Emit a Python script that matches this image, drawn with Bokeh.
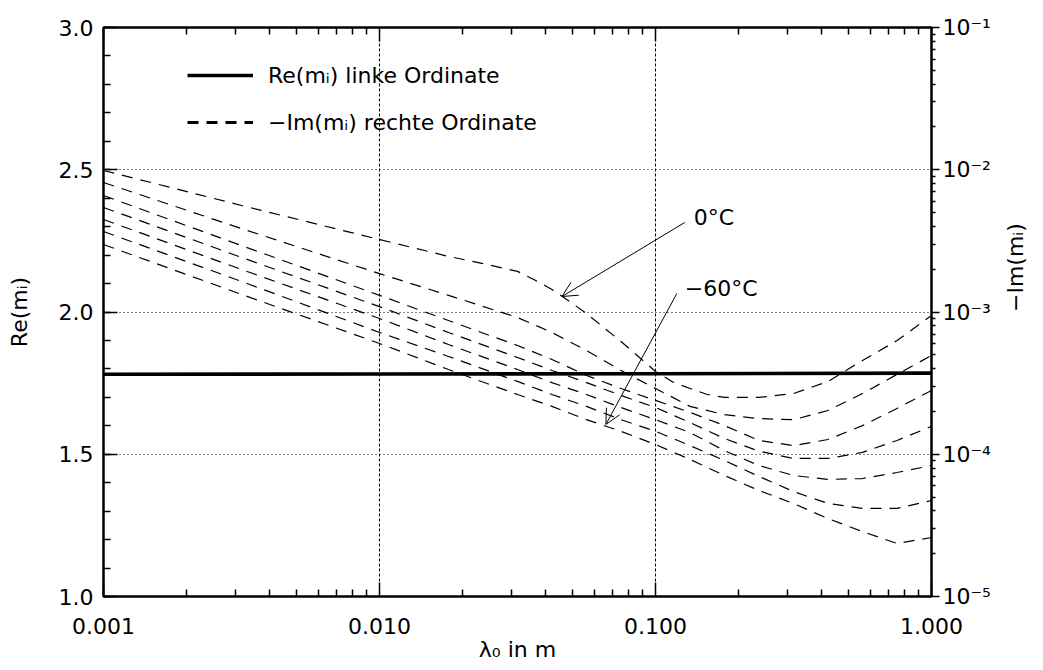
import math

from bokeh.embed import file_html
from bokeh.models import (Arrow, FixedTicker, CustomJSTickFormatter, Label, Legend,
                          LegendItem, LinearAxis, LinearScale, LogAxis, OpenHead, Range1d)
from bokeh.plotting import figure
from bokeh.resources import INLINE

# Wavelength grids (m) of the -Im(m_i) curves
wavelength_0c_m = [0.001, 0.003162, 0.01, 0.01778, 0.02371, 0.03162, 0.03652, 0.04217,
                   0.04870, 0.05623, 0.06494, 0.07499, 0.08660, 0.1, 0.1155, 0.1334,
                   0.1540, 0.1778, 0.2371, 0.3162, 0.4217, 0.5623, 0.7499, 1.0]
wavelength_m = [0.001, 0.003162, 0.01, 0.01778, 0.03162, 0.04217, 0.05623, 0.07499,
                0.1, 0.1334, 0.1778, 0.2371, 0.3162, 0.4217, 0.5623, 0.7499, 1.0]

# -Im(m_i) of ice for temperatures 0 .. -60 degC (right ordinate, log scale)
im_0c = [9.88e-3, 5.61e-3, 3.23e-3, 2.46e-3, 2.19e-3, 1.93e-3, 1.68e-3, 1.44e-3,
         1.19e-3, 9.76e-4, 7.78e-4, 6.20e-4, 4.87e-4, 3.82e-4, 3.22e-4, 2.90e-4,
         2.63e-4, 2.51e-4, 2.51e-4, 2.67e-4, 3.25e-4, 4.56e-4, 6.30e-4, 9.45e-4]
im_m10c = [8.14e-3, 3.86e-3, 1.86e-3, 1.31e-3, 9.15e-4, 7.18e-4, 5.36e-4, 3.88e-4, 2.90e-4,
           2.17e-4, 1.90e-4, 1.78e-4, 1.75e-4, 2.03e-4, 2.67e-4, 3.64e-4, 4.95e-4]
im_m20c = [6.59e-3, 2.93e-3, 1.31e-3, 8.71e-4, 5.81e-4, 4.64e-4, 3.58e-4, 2.90e-4, 2.39e-4,
           1.97e-4, 1.59e-4, 1.25e-4, 1.15e-4, 1.27e-4, 1.59e-4, 2.10e-4, 2.81e-4]
im_m30c = [5.43e-3, 2.42e-3, 1.09e-3, 7.18e-4, 4.79e-4, 3.88e-4, 3.19e-4, 2.59e-4, 2.13e-4,
           1.67e-4, 1.29e-4, 1.05e-4, 9.34e-5, 9.34e-5, 1.03e-4, 1.25e-4, 1.57e-4]
im_m40c = [4.47e-3, 1.99e-3, 9.00e-4, 5.91e-4, 3.94e-4, 3.19e-4, 2.63e-4, 2.13e-4, 1.75e-4,
           1.42e-4, 1.06e-4, 8.33e-5, 7.09e-5, 6.65e-5, 6.75e-5, 7.44e-5, 8.33e-5]
im_m50c = [3.68e-3, 1.64e-3, 7.18e-4, 4.87e-4, 3.25e-4, 2.63e-4, 2.17e-4, 1.75e-4, 1.45e-4,
           1.15e-4, 9.04e-5, 6.98e-5, 5.47e-5, 4.51e-5, 4.16e-5, 4.16e-5, 4.73e-5]
im_m60c = [2.98e-3, 1.33e-3, 6.01e-4, 3.94e-4, 2.63e-4, 2.17e-4, 1.75e-4, 1.45e-4, 1.17e-4,
           9.19e-5, 7.09e-5, 5.56e-5, 4.51e-5, 3.53e-5, 2.86e-5, 2.36e-5, 2.60e-5]

# Re(m_i) (left ordinate)
re_wavelength_m = [0.001, 0.01, 0.1, 1.0]
re_m = [1.781, 1.782, 1.783, 1.785]

# Axis ticks
x_major = [0.001, 0.01, 0.1, 1.0]
x_minor = [m * 10.0 ** e for e in range(-3, 0) for m in range(2, 10)]
re_major = [1.0, 1.5, 2.0, 2.5, 3.0]
re_minor = [round(1.0 + 0.1 * i, 1) for i in range(21)]
im_major = [1e-5, 1e-4, 1e-3, 1e-2, 1e-1]
im_minor = [m * 10.0 ** e for e in range(-5, -1) for m in range(2, 10)]

FONT = "DejaVu Sans"
FS = "22px"

p = figure(width=1043, height=670, x_axis_type="log", y_axis_type="log",
           x_range=Range1d(0.001, 1.0), y_range=Range1d(1e-5, 1e-1),
           y_axis_location="right",
           output_backend="svg", toolbar_location=None,
           min_border_left=103, min_border_right=111,
           min_border_top=27, min_border_bottom=74)
p.extra_y_ranges = {"re": Range1d(1.0, 3.0)}
p.extra_y_scales = {"re": LinearScale()}

p.background_fill_color = None
p.border_fill_color = "white"
p.outline_line_color = "black"
p.outline_line_width = 2

# dotted reference grid
p.xgrid.ticker = FixedTicker(ticks=[0.01, 0.1])
p.ygrid.ticker = FixedTicker(ticks=[1e-4, 1e-3, 1e-2])
p.xgrid.grid_line_color = "black"
p.xgrid.grid_line_dash = "3 2"
p.xgrid.grid_line_width = 1
p.ygrid.grid_line_color = "black"
p.ygrid.grid_line_dash = "1 3"
p.ygrid.grid_line_width = 1.2


def style_axis(ax):
    ax.axis_line_width = 2
    ax.axis_line_color = "black"
    ax.major_tick_in = 14
    ax.major_tick_out = 0
    ax.minor_tick_in = 7
    ax.minor_tick_out = 0
    ax.major_tick_line_width = 1.5
    ax.minor_tick_line_width = 1.5
    ax.major_tick_line_color = "black"
    ax.minor_tick_line_color = "black"
    ax.major_label_text_font = FONT
    ax.major_label_text_font_size = FS
    ax.major_label_text_color = "black"
    ax.axis_label_text_font = FONT
    ax.axis_label_text_font_size = FS
    ax.axis_label_text_font_style = "normal"
    ax.axis_label_text_color = "black"


xax = p.xaxis[0]
style_axis(xax)
xax.ticker = FixedTicker(ticks=x_major, minor_ticks=x_minor)
xax.formatter = CustomJSTickFormatter(code="return tick.toFixed(3)")
xax.major_label_standoff = 21
xax.axis_label = "λ₀ in m"
xax.axis_label_standoff = 0

top = LogAxis(ticker=FixedTicker(ticks=x_major, minor_ticks=x_minor),
              formatter=CustomJSTickFormatter(code="return ''"))
style_axis(top)
top.major_label_standoff = 0
p.add_layout(top, "above")

# right ordinate: -Im(m_i), logarithmic, labelled as powers of ten
right = p.yaxis[0]
style_axis(right)
right.ticker = FixedTicker(ticks=im_major, minor_ticks=im_minor)
right.formatter = CustomJSTickFormatter(code="""
    const sup = {'-': '\u207b', '0': '\u2070', '1': '\u00b9', '2': '\u00b2', '3': '\u00b3',
                 '4': '\u2074', '5': '\u2075', '6': '\u2076', '7': '\u2077', '8': '\u2078', '9': '\u2079'};
    const e = String(Math.round(Math.log10(tick)));
    return '10' + e.split('').map(c => sup[c]).join('');
""")
right.major_tick_in = 0
right.minor_tick_in = 0
right.major_tick_out = 8
right.minor_tick_out = 4
right.major_label_standoff = 3
right.axis_label = "−Im(mᵢ)"
right.axis_label_standoff = 22
right.axis_label_orientation = math.pi / 2

# left ordinate: Re(m_i), linear
left = LinearAxis(y_range_name="re", ticker=FixedTicker(ticks=re_major, minor_ticks=re_minor),
                  formatter=CustomJSTickFormatter(code="return tick.toFixed(1)"))
style_axis(left)
left.major_label_standoff = 10
left.axis_label = "Re(mᵢ)"
left.axis_label_standoff = 24
p.add_layout(left, "left")

# -Im(m_i) curves
p.line(wavelength_0c_m, im_0c, line_color="black", line_width=1.2, line_dash="11 8")
for series in [im_m10c, im_m20c, im_m30c, im_m40c, im_m50c, im_m60c]:
    p.line(wavelength_m, series, line_color="black", line_width=1.2, line_dash="11 8")

# Re(m_i)
re_line = p.line(re_wavelength_m, re_m, y_range_name="re", line_color="black", line_width=3.6)

# legend key for the dashed series (draws nothing in the plot area)
im_key = p.line([float("nan")], [float("nan")], line_color="black", line_width=3,
                line_dash="11 8")

legend = Legend(items=[LegendItem(label="Re(mᵢ) linke Ordinate", renderers=[re_line]),
                       LegendItem(label="−Im(mᵢ) rechte Ordinate", renderers=[im_key])],
                location=(84, 461), orientation="vertical",
                border_line_color=None, background_fill_alpha=0,
                padding=0, margin=0, spacing=21,
                glyph_width=66, glyph_height=26, label_height=26, label_standoff=15,
                label_text_font=FONT, label_text_font_size=FS, label_text_color="black")
p.add_layout(legend)

# temperature annotations
p.add_layout(Label(x=0.1377, y=4.62e-3, text="0°C", text_baseline="middle", text_align="left",
                   text_font=FONT, text_font_size=FS, text_color="black"))
p.add_layout(Label(x=0.1277, y=1.46e-3, text="−60°C", text_baseline="middle", text_align="left",
                   text_font=FONT, text_font_size=FS, text_color="black"))
p.add_layout(Arrow(end=OpenHead(size=15, line_width=1, line_color="black"),
                   x_start=0.1277, y_start=4.26e-3, x_end=0.04583, y_end=1.285e-3,
                   line_width=1, line_color="black"))
p.add_layout(Arrow(end=OpenHead(size=15, line_width=1, line_color="black"),
                   x_start=0.1195, y_start=1.35e-3, x_end=0.0661, y_end=1.62e-4,
                   line_width=1, line_color="black"))

open("out.html", "w").write(file_html(p, INLINE))
